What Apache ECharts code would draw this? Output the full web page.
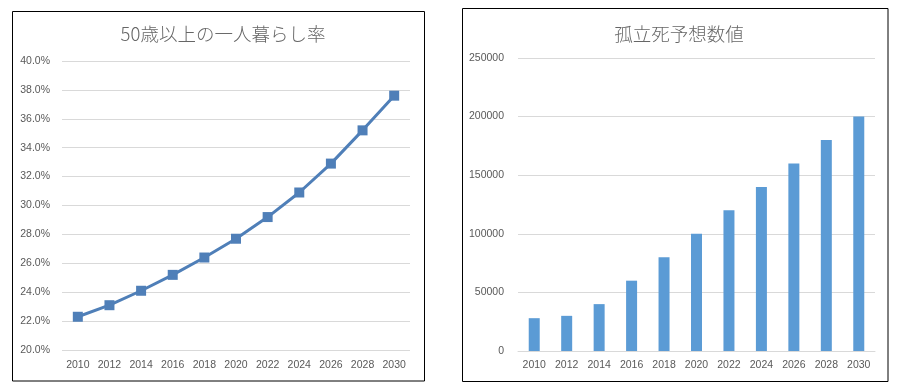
<!DOCTYPE html>
<html><head><meta charset="utf-8">
<script src="https://cdn.jsdelivr.net/npm/echarts@6/dist/echarts.min.js"></script>
<style>html,body{margin:0;padding:0;background:#fff}#c{width:904px;height:390px}</style>
</head><body><div id="c"></div>
<script>
const years = ['2010','2012','2014','2016','2018','2020','2022','2024','2026','2028','2030'];
const rateValues = [22.3, 23.1, 24.1, 25.2, 26.4, 27.7, 29.2, 30.9, 32.9, 35.2, 37.6];
const deathValues = [28000, 30000, 40000, 60000, 80000, 100000, 120000, 140000, 160000, 180000, 200000];
const leftTitle = '50歳以上の一人暮らし率';
const rightTitle = '孤立死予想数値';

const chart = echarts.init(document.getElementById('c'), null, {renderer:'canvas'});
const labelFont = {color:'#595959', fontSize:10.5, fontFamily:'Liberation Sans, Arial, sans-serif'};
const titleStyle = {color:'#666666', fontSize:18.5, fontWeight:300, fontFamily:'Noto Sans CJK JP, sans-serif'};
chart.setOption({
  animation:false,
  title:[
    {text:leftTitle, left:218, top:20, textAlign:'center', textStyle:titleStyle},
    {text:rightTitle, left:674, top:20, textAlign:'center', textStyle:titleStyle}
  ],
  graphic:[
    {type:'rect', shape:{x:12.5, y:11.5, width:412, height:369.5}, style:{fill:null, stroke:'#000', lineWidth:1}, silent:true},
    {type:'rect', shape:{x:462.5, y:8.5, width:425.5, height:373}, style:{fill:null, stroke:'#000', lineWidth:1}, silent:true}
  ],
  grid:[
    {left:62, top:61, width:348, height:289},
    {left:518, top:58, width:357, height:293}
  ],
  xAxis:[
    {type:'category', gridIndex:0, data:years, boundaryGap:true,
     axisLine:{show:false}, axisTick:{show:false},
     axisLabel:Object.assign({margin:10, interval:0}, labelFont)},
    {type:'category', gridIndex:1, data:years, boundaryGap:true,
     axisLine:{show:true, lineStyle:{color:'#d9d9d9'}}, axisTick:{show:false},
     axisLabel:Object.assign({margin:9, interval:0}, labelFont)}
  ],
  yAxis:[
    {type:'value', gridIndex:0, min:20, max:40, interval:2,
     axisLine:{show:false}, axisTick:{show:false},
     splitLine:{lineStyle:{color:'#d9d9d9'}},
     axisLabel:Object.assign({margin:12, formatter:v=>v.toFixed(1)+'%'}, labelFont)},
    {type:'value', gridIndex:1, min:0, max:250000, interval:50000,
     axisLine:{show:false}, axisTick:{show:false},
     splitLine:{lineStyle:{color:'#d9d9d9'}},
     axisLabel:Object.assign({margin:14, formatter:v=>String(v)}, labelFont)}
  ],
  series:[
    {type:'line', xAxisIndex:0, yAxisIndex:0, data:rateValues,
     symbol:'rect', symbolSize:10, lineStyle:{color:'#4f7fb8', width:3},
     itemStyle:{color:'#4f7fb8'}},
    {type:'bar', xAxisIndex:1, yAxisIndex:1, data:deathValues,
     barWidth:11, itemStyle:{color:'#5b9bd5'}}
  ]
});
</script></body></html>
